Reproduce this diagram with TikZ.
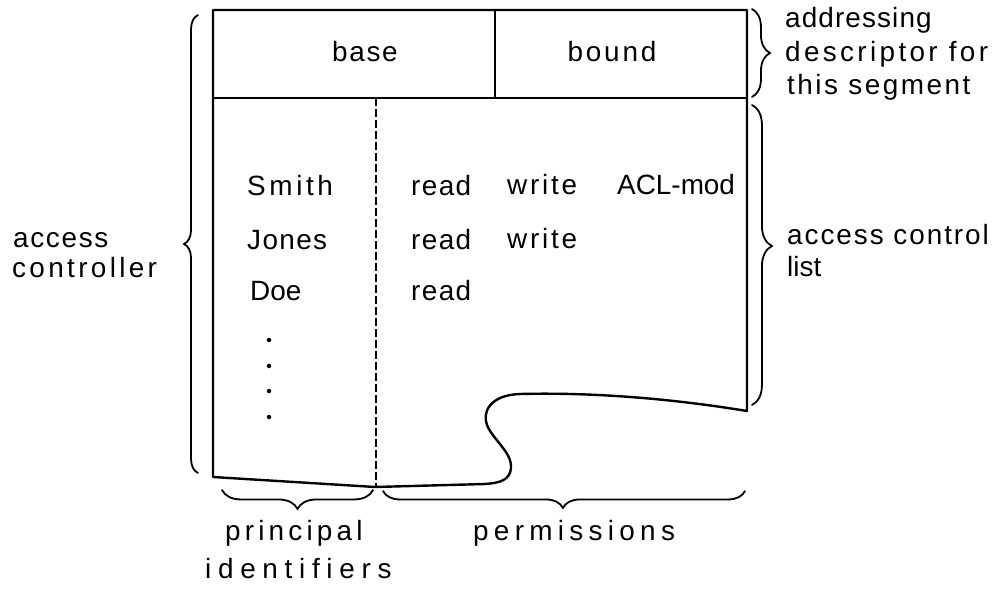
\documentclass[tikz,border=0pt]{standalone}
\usepackage{fontspec}
\setmainfont{Liberation Sans}[Ligatures=CommonOff]
\usetikzlibrary{decorations.pathreplacing}
\newcommand{\ls}[1]{\addfontfeature{LetterSpace=#1}}
\tikzset{
  lbl/.style={inner sep=0pt, font=\fontsize{28}{32}\selectfont},
  wl/.style={lbl, anchor=base west},
  cl/.style={lbl, anchor=base},
  brc/.style n args={2}{decorate, decoration={brace, amplitude=#1, aspect=#2}, line width=1.8bp, line cap=round},
  boxline/.style={line width=2.4bp, line join=round},
  dotmark/.style={circle, fill, inner sep=0pt, minimum size=4.5bp},
}
\begin{document}
\begin{tikzpicture}[x=1bp, y=1bp]
\useasboundingbox (0,0) rectangle (995,-589);
% corner coordinates
\coordinate (tl) at (213,-10);
\coordinate (tr) at (747,-10);
\coordinate (ml) at (213,-98);
\coordinate (mr) at (747,-98);
\coordinate (bl) at (213,-477);
\coordinate (br) at (747,-411);
\coordinate (dvt) at (495,-10);
\coordinate (dvb) at (495,-98);
\coordinate (dsh) at (376,-98);
\coordinate (dsb) at (376,-486);
% outline with torn corner
\draw[boxline] (bl) -- (tl) -- (tr) -- (br)
  .. controls (680,-400) and (600,-392) .. (520,-394)
  .. controls (490,-395) and (482,-412) .. (487,-425)
  .. controls (493,-440) and (512,-452) .. (511,-468)
  .. controls (510,-480) and (500,-483) .. (485,-484)
  -- (375,-487) -- cycle;
\draw[boxline] (ml) -- (mr);
\draw[boxline] (dvt) -- (dvb);
\draw[line width=2bp, dash pattern=on 8bp off 3bp] (dsh) -- (dsb);
% header texts
\node[cl] (base) at (365,-62) {\ls{6}base};
\node[cl] (bound) at (612,-62) {\ls{10}bound};
% table
\node[wl] (smith) at (247,-196) {\ls{13}Smith};
\node[wl] (jones) at (247,-250) {\ls{5}Jones};
\node[wl] (doe) at (250,-300) {Doe};
\node[wl] (r1) at (411,-196) {\ls{5}read};
\node[wl] (r2) at (411,-250) {\ls{5}read};
\node[wl] (r3) at (411,-300) {\ls{5}read};
\node[wl] (w1) at (507,-195) {\ls{10}write};
\node[wl] (w2) at (507,-249) {\ls{10}write};
\node[wl] (acl) at (617,-195) {ACL-mod};
\node[dotmark] (d1) at (269,-340) {};
\node[dotmark] (d2) at (269,-366) {};
\node[dotmark] (d3) at (269,-391) {};
\node[dotmark] (d4) at (269,-417) {};
% side labels
\node[wl] (acc1) at (13,-248) {\ls{6}access};
\node[wl] (acc2) at (12,-278) {\ls{12}controller};
\node[wl] (ad1) at (785,-28) {\ls{4}addressing};
\node[wl] (ad2) at (785,-62) {\ls{12}descriptor for};
\node[wl] (ad3) at (787,-95) {\ls{9}this segment};
\node[wl] (acl1) at (787,-245) {\ls{7}access control};
\node[wl] (acl2) at (787,-277) {list};
\node[wl] (pr1) at (225,-540) {\ls{15}principal};
\node[wl] (pr2) at (205,-578) {\ls{24}identifiers};
\node[wl] (perm) at (473,-540) {\ls{19}permissions};
% braces
\coordinate (lb1) at (198,-473);
\coordinate (lb2) at (198,-15);
\draw[brc={14}{0.5}] (lb1) -- (lb2);
\coordinate (rt1) at (752,-9);
\coordinate (rt2) at (752,-97);
\draw[brc={18}{0.5}] (rt1) -- (rt2);
\coordinate (rb1) at (752,-105);
\coordinate (rb2) at (752,-405);
\draw[brc={20}{0.47}] (rb1) -- (rb2);
\coordinate (pb1) at (373,-490);
\coordinate (pb2) at (222,-490);
\draw[brc={19}{0.5}] (pb1) -- (pb2);
\coordinate (qb1) at (745,-491);
\coordinate (qb2) at (383,-491);
\draw[brc={17}{0.503}] (qb1) -- (qb2);
\end{tikzpicture}
\end{document}
